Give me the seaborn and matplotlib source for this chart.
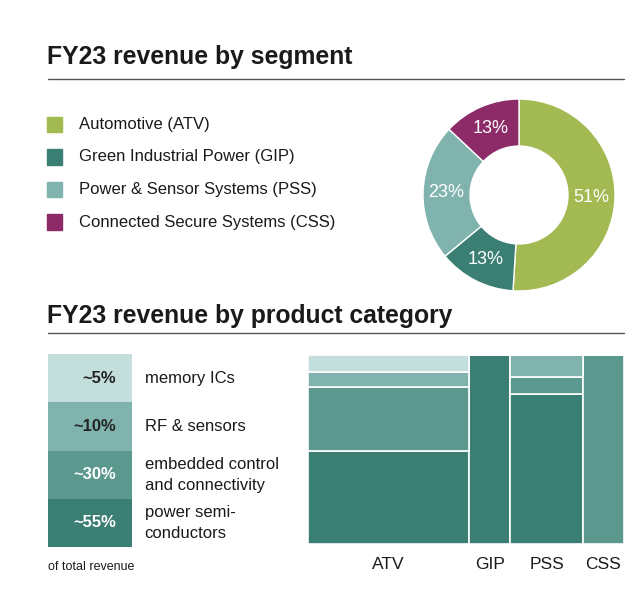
import numpy as np
import matplotlib
matplotlib.use("Agg")
import matplotlib.pyplot as plt
from matplotlib.lines import Line2D
import seaborn as sns

sns.set_theme(style="white")
plt.rcParams["font.family"] = ["Liberation Sans", "DejaVu Sans"]

W, H = 640, 594

# ---------- data ----------
segments = ["ATV", "GIP", "PSS", "CSS"]
segment_names = ["Automotive (ATV)", "Green Industrial Power (GIP)",
                 "Power & Sensor Systems (PSS)", "Connected Secure Systems (CSS)"]
segment_share = [51, 13, 23, 13]
segment_colors = ["#a3b951", "#3b7f74", "#80b3ad", "#8c2b68"]

# product categories, listed top to bottom as in the left block
categories = ["memory ICs", "RF & sensors", "embedded control\nand connectivity",
              "power semi-\nconductors"]
category_labels = ["~5%", "~10%", "~30%", "~55%"]
category_colors = ["#c3dedb", "#80b3ad", "#5b998f", "#3b7f74"]
category_text = ["#222222", "#222222", "white", "white"]

# share of each segment's revenue per category (% of segment)
memory_share = [9, 0, 0, 0]
rf_share = [8, 0, 12, 0]
embedded_share = [34, 0, 9, 100]
power_share = [49, 100, 79, 0]


def rect(x, y, w, h):
    return [x / W, 1 - (y + h) / H, w / W, h / H]


def fx(x):
    return x / W


def fy(y):
    return 1 - y / H


fig = plt.figure(figsize=(6.4, 5.94), dpi=100)
fig.patch.set_facecolor("white")

# ---------- titles + rules ----------
fig.text(fx(47), fy(64), "FY23 revenue by segment", fontsize=17.8, fontweight="bold",
         color="#1a1a1a", va="baseline", ha="left")
fig.add_artist(Line2D([fx(48), fx(624)], [fy(79), fy(79)], color="#555555", lw=1))
fig.text(fx(47), fy(323), "FY23 revenue by product category", fontsize=17.8,
         fontweight="bold", color="#1a1a1a", va="baseline", ha="left")
fig.add_artist(Line2D([fx(48), fx(624)], [fy(333), fy(333)], color="#555555", lw=1))

# ---------- segment legend ----------
for i, (name, col) in enumerate(zip(segment_names, segment_colors)):
    yc = 124.5 + i * 32.5
    fig.patches.append(plt.Rectangle((fx(47), fy(yc + 7.5)), 15 / W, 15 / H,
                                     transform=fig.transFigure, color=col, figure=fig))
    fig.text(fx(79), fy(yc), name, fontsize=12, color="#1a1a1a", va="center", ha="left")

# ---------- donut ----------
ax_d = fig.add_axes(rect(519 - 96, 195 - 96, 192, 192))
ax_d.pie(segment_share, colors=segment_colors, startangle=90, counterclock=False,
         wedgeprops=dict(width=0.49, edgecolor="white", linewidth=1),
         autopct=lambda p: f"{p:.0f}%", pctdistance=0.755,
         textprops=dict(color="white", fontsize=13))
ax_d.set_xlim(-1, 1)
ax_d.set_ylim(-1, 1)
ax_d.axis("off")

# ---------- product category block ----------
ax_c = fig.add_axes(rect(48, 354, 84, 193))
n = len(categories)
for i in range(n):
    y0 = n - 1 - i
    ax_c.bar(0, 1, bottom=y0, width=1, align="edge", color=category_colors[i],
             edgecolor="none")
    ax_c.text(0.81, y0 + 0.5, category_labels[i], ha="right", va="center",
              fontsize=12, fontweight="bold", color=category_text[i])
    ax_c.text(1.15, y0 + 0.5, categories[i], ha="left", va="center", fontsize=12,
              color="#1a1a1a", linespacing=1.5, clip_on=False)
ax_c.set_xlim(0, 1)
ax_c.set_ylim(0, n)
ax_c.axis("off")
fig.text(fx(48), fy(567), "of total revenue", fontsize=9, color="#1a1a1a",
         va="center", ha="left")

# ---------- mosaic ----------
ax_m = fig.add_axes(rect(308, 354.5, 316, 189))
lefts = np.concatenate([[0], np.cumsum(segment_share)[:-1]])
stack = [power_share, embedded_share, rf_share, memory_share]
stack_colors = [category_colors[3], category_colors[2], category_colors[1], category_colors[0]]
bottom = np.zeros(len(segments))
for vals, col in zip(stack, stack_colors):
    vals = np.array(vals, dtype=float)
    ax_m.bar(lefts, vals, width=segment_share, bottom=bottom, align="edge",
             color=col, edgecolor="white", linewidth=1.2)
    bottom += vals
ax_m.set_xlim(0, 100)
ax_m.set_ylim(0, 100)
ax_m.set_xticks(lefts + np.array(segment_share) / 2)
ax_m.set_xticklabels(segments, fontsize=12.5, color="#1a1a1a")
ax_m.tick_params(axis="x", length=0, pad=10)
ax_m.set_yticks([])
for s in ax_m.spines.values():
    s.set_visible(False)

fig.savefig("out.png", dpi=100, facecolor="white")
